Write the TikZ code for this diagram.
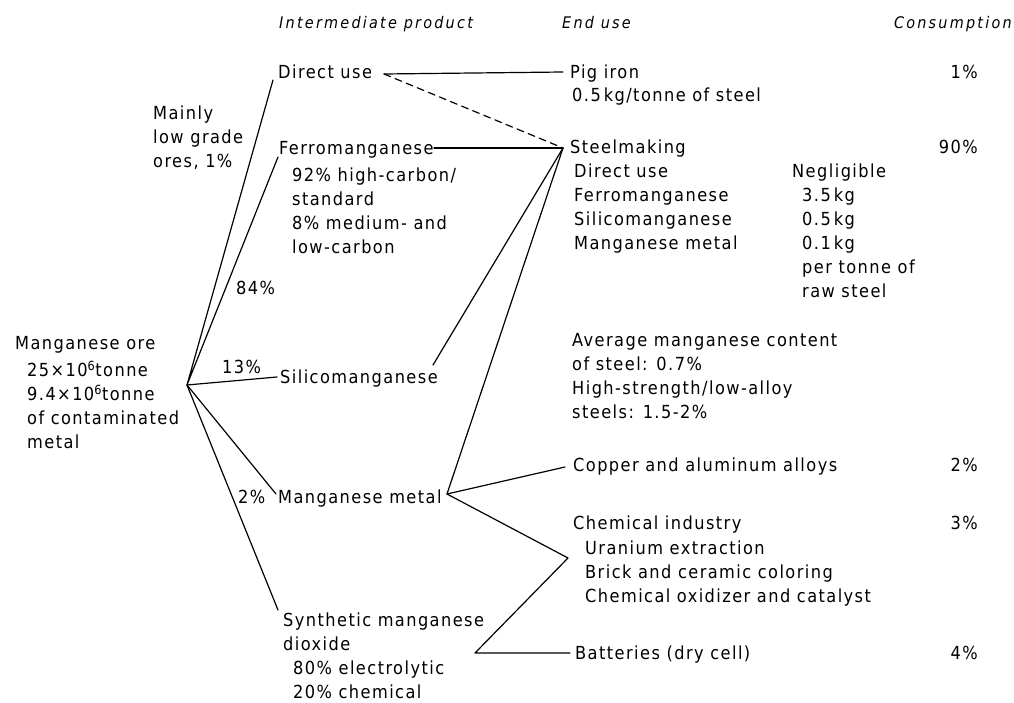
\documentclass[tikz,border=0pt]{standalone}
\usepackage{fontspec}
\setmainfont[LetterSpace=8]{DejaVu Sans Condensed}
\newfontfamily\hdrfont[LetterSpace=14]{DejaVu Sans Condensed}
\begin{document}
\begin{tikzpicture}[x=1pt,y=-1pt,
  txt/.style={anchor=north west,inner sep=0pt,align=left,font=\fontsize{18}{24}\selectfont},
  pct/.style={anchor=north east,inner sep=0pt,font=\fontsize{18}{24}\selectfont},
  hdr/.style={anchor=base west,inner sep=0pt,font=\hdrfont\fontsize{16}{20}\selectfont\itshape},
  ln/.style={line width=1.2pt,line cap=round,line join=round},
  dln/.style={ln,dash pattern=on 7pt off 5pt}]
\useasboundingbox (0,0) rectangle (1014,703);
% headers
\node[hdr] (h1) at (279,29) {Intermediate product};
\node[hdr] (h2) at (562,29) {End use};
\node[hdr,anchor=base east] (h3) at (1012,29) {Consumption};
% left
\node[txt] (ore) at (15,336) {Manganese ore};
\node[txt] (oresub) at (27,361) {25×10\textsuperscript{6}tonne\\9.4×10\textsuperscript{6}tonne\\of contaminated\\metal};
\node[txt] (mainly) at (153,106) {Mainly\\low grade\\ores, 1\%};
\node[txt] (p84) at (236,281) {84\%};
\node[txt] (p13) at (222,360) {13\%};
\node[txt] (p2) at (238,490) {2\%};
% intermediate
\node[txt] (direct) at (278,65) {Direct use};
\node[txt] (ferro) at (279,141) {Ferromanganese};
\node[txt] (ferrosub) at (292,168) {92\% high-carbon/\\standard\\8\% medium- and\\low-carbon};
\node[txt] (silico) at (280,370) {Silicomanganese};
\node[txt] (mnmetal) at (278,490) {Manganese metal};
\node[txt] (synth) at (283,613) {Synthetic manganese\\dioxide};
\node[txt] (synthsub) at (293,661) {80\% electrolytic\\20\% chemical};
% end use
\node[txt] (pig) at (570,65) {Pig iron};
\node[txt] (pigsub) at (572,88) {0.5\,kg/tonne of steel};
\node[txt] (steel) at (570,140) {Steelmaking};
\node[txt] (steelsub) at (574,164) {Direct use\\Ferromanganese\\Silicomanganese\\Manganese metal};
\node[txt] (neg) at (792,164) {Negligible};
\node[txt] (amounts) at (802,188) {3.5\,kg\\0.5\,kg\\0.1\,kg\\per tonne of\\raw steel};
\node[txt] (avg) at (572,333) {Average manganese content\\of steel: 0.7\%\\High-strength/low-alloy\\steels: 1.5-2\%};
\node[txt] (copper) at (573,458) {Copper and aluminum alloys};
\node[txt] (chem) at (573,516) {Chemical industry};
\node[txt] (chemsub) at (585,541) {Uranium extraction\\Brick and ceramic coloring\\Chemical oxidizer and catalyst};
\node[txt] (batt) at (575,646) {Batteries (dry cell)};
% consumption
\node[pct] (c1) at (978,65) {1\%};
\node[pct] (c90) at (978,140) {90\%};
\node[pct] (c2) at (978,458) {2\%};
\node[pct] (c3) at (978,516) {3\%};
\node[pct] (c4) at (978,646) {4\%};
% junction coordinates
\coordinate (O) at (187,385);
\coordinate (Din) at (273,80);
\coordinate (Fin) at (278,157);
\coordinate (Sin) at (277,377);
\coordinate (Min) at (276,494);
\coordinate (Yin) at (278,610);
\coordinate (Dout) at (384,74);
\coordinate (Pin) at (563,72);
\coordinate (STin) at (563,148);
\coordinate (Fout) at (434,148);
\coordinate (Sout) at (433,365);
\coordinate (Mout) at (447,494);
\coordinate (CUin) at (565,467);
\coordinate (CHin) at (568,558);
\coordinate (Yout) at (475,653);
\coordinate (BAin) at (570,653);
% connectors
\draw[ln] (Din) -- (O) -- (Fin);
\draw[ln] (O) -- (Sin);
\draw[ln] (O) -- (Min);
\draw[ln] (O) -- (Yin);
\draw[ln] (Dout) -- (Pin);
\draw[dln] (Dout) -- (STin);
\draw[ln] (Fout) -- (STin);
\draw[ln] (Sout) -- (STin);
\draw[ln] (Mout) -- (STin);
\draw[ln] (Mout) -- (CUin);
\draw[ln] (Mout) -- (CHin) -- (Yout) -- (BAin);
\end{tikzpicture}
\end{document}
